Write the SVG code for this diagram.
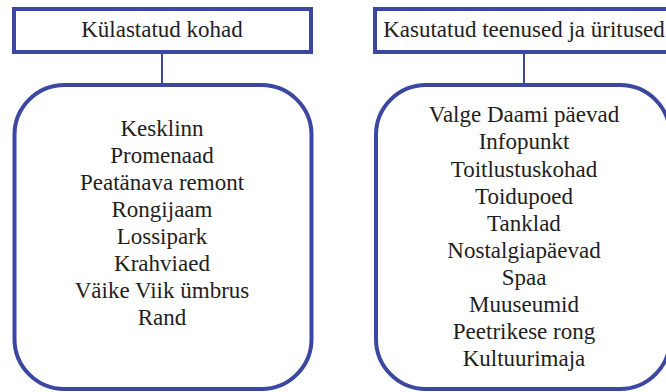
<svg xmlns="http://www.w3.org/2000/svg" width="666" height="392" viewBox="0 0 666 392">
<style>
.hdr{fill:#fff;stroke:#3b47a1;stroke-width:4}
.box{fill:#fff;stroke:#3b47a1;stroke-width:4}
.con{stroke:#3b47a1;stroke-width:2;fill:none}
.t{font-family:"Liberation Serif",serif;font-size:23px;fill:#1e1e1e;text-anchor:middle}
</style>
<rect width="666" height="392" fill="#fff"/>
<g id="connectors">
<line class="con" x1="162" y1="54" x2="162" y2="84"/>
<line class="con" x1="524" y1="54" x2="524" y2="84"/>
</g>
<g id="node-kulastatud">
<rect class="hdr" x="14" y="9" width="297" height="43"/>
<text class="t" x="162" y="37">Külastatud kohad</text>
</g>
<g id="node-kasutatud">
<rect class="hdr" x="375" y="9" width="298" height="43"/>
<text class="t" x="524" y="37">Kasutatud teenused ja üritused</text>
</g>
<g id="node-kohad-list">
<rect class="box" x="14.5" y="85" width="297" height="304" rx="50" ry="50"/>
<text class="t" x="162" y="136">Kesklinn</text>
<text class="t" x="162" y="163">Promenaad</text>
<text class="t" x="162" y="190">Peatänava remont</text>
<text class="t" x="162" y="217">Rongijaam</text>
<text class="t" x="162" y="244">Lossipark</text>
<text class="t" x="162" y="271">Krahviaed</text>
<text class="t" x="162" y="298">Väike Viik ümbrus</text>
<text class="t" x="162" y="325">Rand</text>
</g>
<g id="node-teenused-list">
<rect class="box" x="376" y="85" width="294" height="304" rx="50" ry="50"/>
<text class="t" x="524" y="122">Valge Daami päevad</text>
<text class="t" x="524" y="149">Infopunkt</text>
<text class="t" x="524" y="176.5">Toitlustuskohad</text>
<text class="t" x="524" y="203.5">Toidupoed</text>
<text class="t" x="524" y="230.5">Tanklad</text>
<text class="t" x="524" y="257.5">Nostalgiapäevad</text>
<text class="t" x="524" y="284.5">Spaa</text>
<text class="t" x="524" y="311.5">Muuseumid</text>
<text class="t" x="524" y="338.5">Peetrikese rong</text>
<text class="t" x="524" y="365.5">Kultuurimaja</text>
</g>
</svg>
